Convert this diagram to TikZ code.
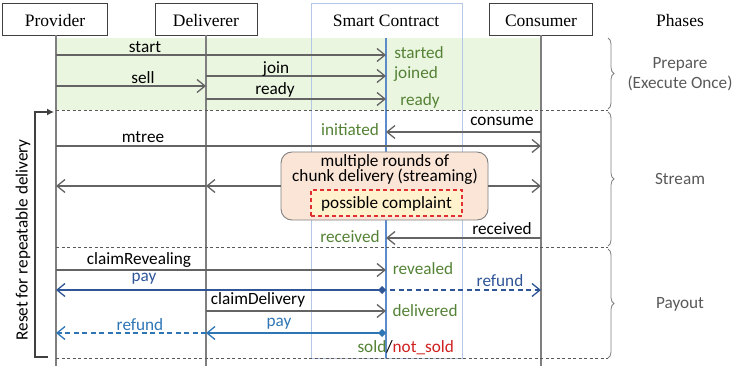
\documentclass[tikz,border=0pt]{standalone}
\usepackage{fontspec}
\setmainfont{Liberation Serif}
\newfontfamily\hdr{Liberation Serif}
\newfontfamily\lab{Carlito}
\usetikzlibrary{arrows.meta,decorations.pathreplacing}

\definecolor{msgc}{HTML}{646464}
\definecolor{lifec}{HTML}{7F7F7F}
\definecolor{greenT}{HTML}{548235}
\definecolor{blueD}{HTML}{2F5597}
\definecolor{blueL}{HTML}{2E75B6}
\definecolor{redT}{HTML}{D02020}
\definecolor{redBox}{HTML}{E03030}
\definecolor{scEdge}{HTML}{B4C7E7}
\definecolor{scLine}{HTML}{5B8BCB}
\definecolor{prepFill}{HTML}{EBF6E1}
\definecolor{peach}{HTML}{FBE5D6}
\definecolor{paleY}{HTML}{FFF2CC}
\definecolor{phaseT}{HTML}{595959}

\tikzset{
  hfont/.style={font=\hdr\fontsize{17.5}{20}\selectfont},
  head/.style={draw=black!75, line width=0.8pt, fill=white, minimum height=32pt,
    inner sep=0pt},
  lbl/.style={font=\lab\fontsize{17.2}{20}\selectfont, inner sep=0pt, anchor=base},
  life/.style={draw=lifec, line width=1.1pt},
  tip/.style={-{Straight Barb[length=8pt,width=13pt]}},
  msg/.style={draw=msgc, line width=1.3pt, tip},
  sep/.style={draw=black!65, line width=0.8pt, dash pattern=on 3pt off 2.5pt},
  phase/.style={lbl, text=phaseT},
  brc/.style={draw=lifec, line width=0.8pt, decorate,
    decoration={brace, amplitude=6pt}},
}

\begin{document}
\begin{tikzpicture}[x=1pt, y=-1pt]
\useasboundingbox (0,0) rectangle (735,366);

% lifeline positions
\coordinate (P) at (56,0);
\coordinate (D) at (206,0);
\coordinate (S) at (386,0);
\coordinate (C) at (541,0);

% prepare phase background
\fill[prepFill] (56,38) rectangle (541,110);

% smart contract column
\node[draw=scEdge, line width=1pt, minimum width=151pt, minimum height=355pt,
  inner sep=0pt, anchor=north] (scbox) at (386.5,3) {};
\node[hfont, inner sep=0pt, anchor=base] (sc) at (386,26.5) {Smart Contract};

% participants
\node[head, minimum width=105pt] (prov) at (55,19) {};
\node[head, minimum width=102pt] (deli) at (206,19) {};
\node[head, minimum width=103pt] (cons) at (541,19) {};
\node[hfont, inner sep=0pt, anchor=base] (provtxt) at (55,26.5) {Provider};
\node[hfont, inner sep=0pt, anchor=base] (delitxt) at (206,26.5) {Deliverer};
\node[hfont, inner sep=0pt, anchor=base] (constxt) at (541,26.5) {Consumer};
\node[hfont, inner sep=0pt, anchor=base] (phases) at (680,26.5) {Phases};

% lifelines
\draw[life] (P|-prov.south) -- (P|-0,366);
\draw[life] (D|-deli.south) -- (D|-0,366);
\draw[life] (C|-cons.south) -- (C|-0,366);
\draw[draw=scLine, line width=1.2pt] (S|-0,38) -- (S|-0,358);

% phase separators
\draw[sep] (P|-0,110) -- (608,110);
\draw[sep] (P|-0,247) -- (608,247);
\draw[sep] (P|-0,358) -- (608,358);

% ---- prepare ----
\draw[msg] (P|-0,55) -- (S|-0,55);
\draw[msg] (D|-0,76) -- (S|-0,76);
\draw[msg] (P|-0,86) -- (D|-0,86);
\draw[msg] (D|-0,99) -- (S|-0,99);
\node[lbl] (l-start) at (145,52.5) {start};
\node[lbl] (l-join) at (276,74) {join};
\node[lbl] (l-sell) at (143,83.5) {sell};
\node[lbl] (l-ready) at (275,95) {ready};
\node[lbl, text=greenT] (s-started) at (419,59) {started};
\node[lbl, text=greenT] (s-joined) at (416,79) {joined};
\node[lbl, text=greenT] (s-ready) at (420,106) {ready};

% ---- stream ----
\draw[msg] (C|-0,132) -- (S|-0,132);
\node[lbl] (l-consume) at (502,126) {consume};
\node[lbl, text=greenT] (s-init) at (350,136) {initiated};
\draw[msg] (P|-0,146) -- (C|-0,146);
\node[lbl] (l-mtree) at (143,142.5) {mtree};

\node[draw=lifec, line width=0.9pt, fill=peach, rounded corners=11pt,
  minimum width=207pt, minimum height=68pt, inner sep=0pt] (chunk) at (384.5,186) {};
\node[lbl, text depth=0pt] (chunk1) at (385,166) {multiple rounds of};
\node[lbl, text height=1.4ex] (chunk2) at (385,182) {chunk delivery (streaming)};
\node[draw=redBox, line width=1.1pt, dash pattern=on 4pt off 3pt, fill=paleY,
  minimum width=151pt, minimum height=26pt, inner sep=0pt] (compl) at (386.5,203) {};
\node[lbl] (compltxt) at (386.5,208) {possible complaint};

\draw[msg] (chunk.west|-0,186) -- (D|-0,186);
\draw[msg] (D|-0,186) -- (P|-0,186);
\draw[msg] (chunk.east|-0,186) -- (C|-0,186);

\draw[msg] (C|-0,238) -- (S|-0,238);
\node[lbl] (l-recv) at (502,234) {received};
\node[lbl, text=greenT] (s-recv) at (350,242.5) {received};

% ---- payout ----
\draw[msg] (P|-0,270) -- (S|-0,270);
\node[lbl] (l-claimR) at (139,264) {claimRevealing};
\node[lbl, text=greenT] (s-rev) at (423,274.5) {revealed};

\draw[draw=blueD, line width=1.3pt, {Diamond[length=8pt,width=8pt,fill=blueD]}-{Straight Barb[length=8pt,width=13pt]}]
  (S|-0,290) -- (P|-0,290);
\node[lbl, text=blueD] (l-pay1) at (144,281.5) {pay};
\draw[draw=blueD, line width=1.3pt, dash pattern=on 5pt off 3.5pt, tip, shorten <=4pt]
  (S|-0,290) -- (C|-0,290);
\node[lbl, text=blueD] (l-ref1) at (500,286.5) {refund};

\draw[msg] (D|-0,311) -- (S|-0,311);
\node[lbl] (l-claimD) at (258,304) {claimDelivery};
\node[lbl, text=greenT] (s-del) at (425,316) {delivered};

\draw[draw=blueL, line width=1.3pt, {Diamond[length=8pt,width=8pt,fill=blueL]}-{Straight Barb[length=8pt,width=13pt]}]
  (S|-0,333) -- (D|-0,333);
\node[lbl, text=blueL] (l-pay2) at (279,326) {pay};
\draw[draw=blueL, line width=1.3pt, dash pattern=on 5pt off 3.5pt, tip]
  (D|-0,333) -- (P|-0,333);
\node[lbl, text=blueL] (l-ref2) at (140,330.5) {refund};

\node[lbl, text=greenT, anchor=base east] (s-sold) at (386.5,352) {sold};
\node[lbl] (s-slash) at (389.5,352) {/};
\node[lbl, text=redT, anchor=base west] (s-nsold) at (392.5,352) {not\_sold};

% ---- phases ----
\draw[brc] (608,38) -- (608,109);
\draw[brc] (608,112) -- (608,246);
\draw[brc] (608,249) -- (608,358);
\node[phase] (ph1a) at (680,69) {Prepare};
\node[phase] (ph1b) at (680,88.5) {(Execute Once)};
\node[phase] (ph2) at (680,184) {Stream};
\node[phase] (ph3) at (680,308) {Payout};

% ---- repeat loop ----
\coordinate (rb) at (48,357);
\coordinate (rt) at (54,112);
\draw[draw=black!75, line width=1.2pt, -{Latex[length=7pt,width=7pt]}]
  (rb) -- ++(-13,0) |- (rt);
\node[font=\lab\fontsize{17.2}{20}\selectfont, inner sep=0pt, rotate=90] (resetlbl) at (23,240) {Reset for repeatable delivery};

\end{tikzpicture}
\end{document}
